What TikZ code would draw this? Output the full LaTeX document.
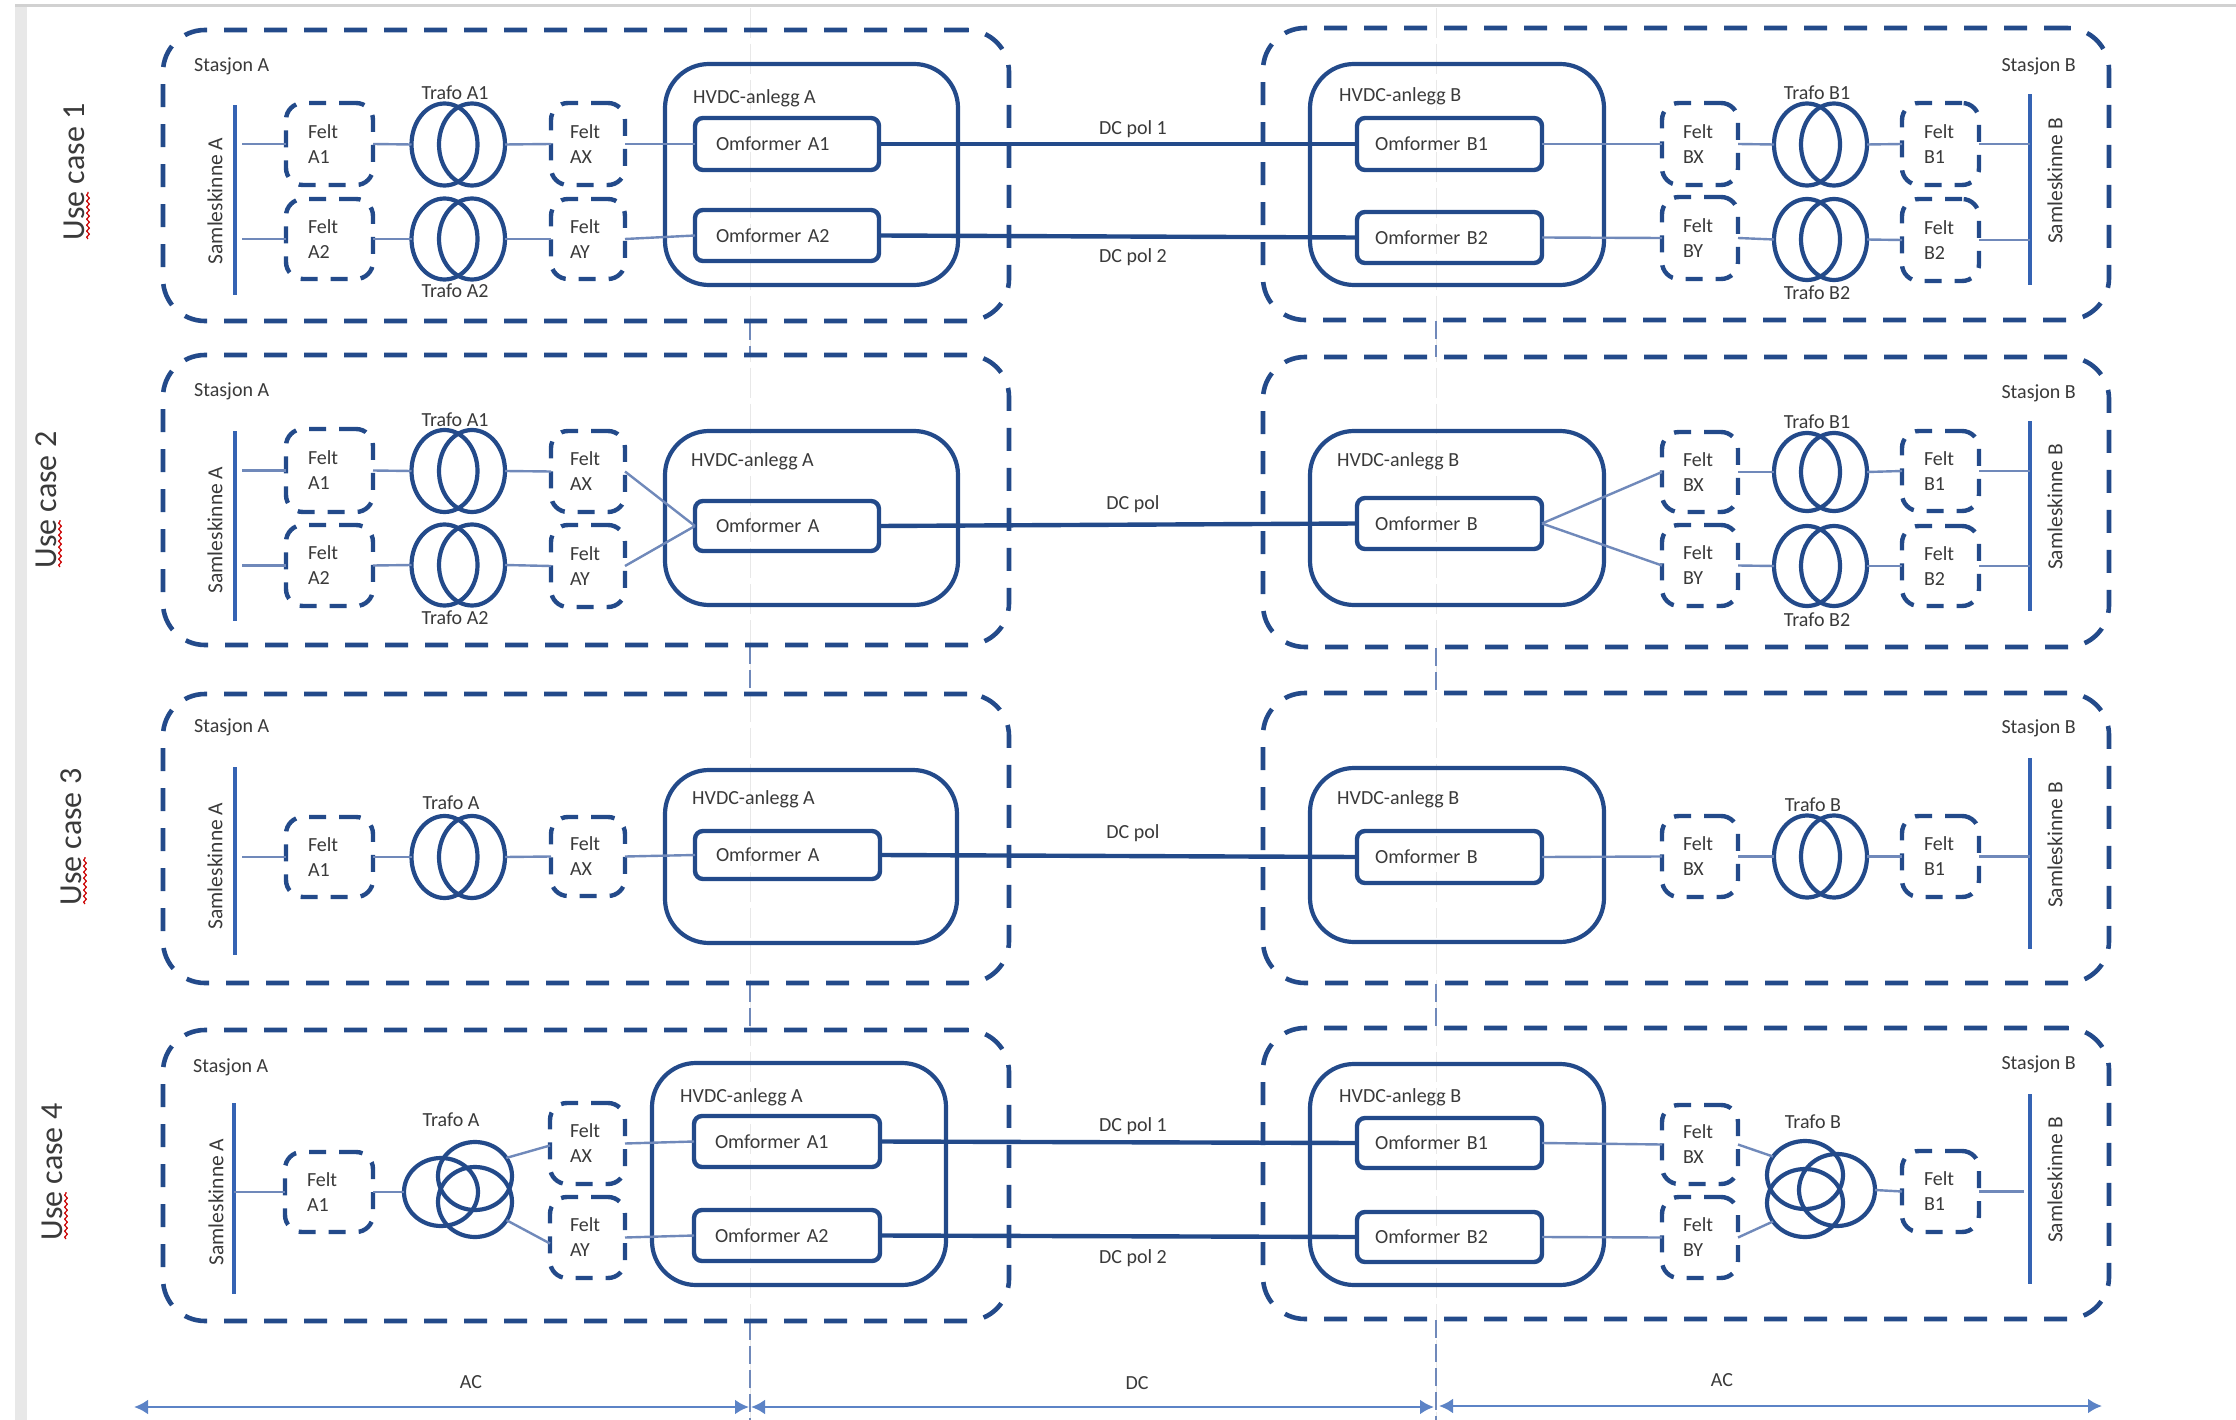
\documentclass[tikz,border=0pt]{standalone}
\usepackage{fontspec}
\setmainfont{Carlito}
\usetikzlibrary{shapes.geometric,arrows.meta,calc,decorations.pathmorphing}
\definecolor{dkblue}{HTML}{234A8A}
\definecolor{busblue}{HTML}{3563B3}
\definecolor{thinblue}{HTML}{7089BA}
\definecolor{arrblue}{HTML}{5C83C6}
\definecolor{txtgrey}{HTML}{3A3A3A}
\tikzset{
  panelbox/.style={draw=dkblue,line width=4.6pt,rounded corners=42pt,dash pattern=on 23pt off 17pt},
  hvdcbox/.style={draw=dkblue,line width=4.2pt,rounded corners=44pt},
  omfbox/.style={draw=dkblue,line width=4.4pt,rounded corners=8pt},
  feltbox/.style={draw=dkblue,line width=4.4pt,rounded corners=17pt,dash pattern=on 17pt off 13pt},
  trafoshape/.style={draw=dkblue,line width=4.2pt,ellipse,inner sep=0pt,outer sep=0pt},
  conn/.style={draw=thinblue,line width=2.4pt},
  dcline/.style={draw=dkblue,line width=4.4pt},
  busbar/.style={fill=busblue,draw=none,inner sep=0pt,outer sep=0pt},
  lab/.style={text=txtgrey,font=\fontsize{20}{25}\selectfont,inner sep=0pt},
  busl/.style={text=txtgrey,font=\fontsize{21.5}{25}\selectfont,inner sep=0pt,rotate=90},
  usecase/.style={text=txtgrey,font=\fontsize{32}{36}\selectfont,rotate=90,inner sep=0pt},
  squig/.style={draw=red!80!black,line width=1.2pt,decorate,decoration={snake,amplitude=1.3pt,segment length=6pt}},
  dimarrow/.style={draw=arrblue,line width=2.8pt,{Latex[length=14pt,width=15pt]}-{Latex[length=14pt,width=15pt]}},
  centrefaint/.style={draw=black!9,line width=1pt,dash pattern=on 30pt off 6pt},
  centredark/.style={draw=thinblue,line width=1.1pt,dash pattern=on 18pt off 6pt},
}
% style, name, x1, y1, x2, y2, text inset, text
\newcommand\bx[8]{%
  \pgfmathsetmacro\cxx{(#3+#5)/2}\pgfmathsetmacro\cyy{(#4+#6)/2}%
  \pgfmathsetmacro\www{#5-#3}\pgfmathsetmacro\hhh{#6-#4}%
  \pgfmathsetmacro\ttt{#5-#3-2*#7}%
  \node[#1,minimum width=\www pt,minimum height=\hhh pt,inner xsep=0pt,inner ysep=0pt,outer sep=0pt,
        text=txtgrey,font=\fontsize{20}{25}\selectfont,text width=\ttt pt,align=left] (#2) at (\cxx,\cyy) {#8};}
% name, cx, cy, rx, ry
\newcommand\el[5]{%
  \pgfmathsetmacro\www{2*#4}\pgfmathsetmacro\hhh{2*#5}%
  \node[trafoshape,minimum width=\www pt,minimum height=\hhh pt] (#1) at (#2,#3) {};}
% name, x, y1, y2
\newcommand\bus[4]{%
  \pgfmathsetmacro\cyy{(#3+#4)/2}\pgfmathsetmacro\hhh{#4-#3}%
  \node[busbar,minimum width=3.6pt,minimum height=\hhh pt] (#1) at (#2,\cyy) {};}
\begin{document}
\begin{tikzpicture}[x=1pt,y=-1pt]
\useasboundingbox[fill=white] (0,0) rectangle (2236,1420);
% frame
\fill[black!9] (15,4) rectangle (27,1420);
\fill[black!18] (15,4) rectangle (2236,7);
% centre lines
\coordinate (cl1t) at (750,8); \coordinate (cl1b) at (750,1420);
\coordinate (cl2t) at (1436,8); \coordinate (cl2b) at (1436,1420);
\draw[centrefaint] (cl1t) -- (cl1b);
\draw[centrefaint] (cl2t) -- (cl2b);
\draw[centredark] (750,322) -- (750,356);
\draw[centredark] (750,646) -- (750,695);
\draw[centredark] (750,984) -- (750,1031);
\draw[centredark] (750,1322) -- (750,1420);
\draw[centredark] (1436,321) -- (1436,357);
\draw[centredark] (1436,648) -- (1436,693);
\draw[centredark] (1436,984) -- (1436,1028);
\draw[centredark] (1436,1320) -- (1436,1420);

% use case labels
\foreach \nm/\cx/\cy/\tx in {uca/74/172/1,ucb/46/500/2,ucc/71/837/3,ucd/52/1172/4}{
  \node[usecase] (\nm) at (\cx,\cy) {Use case \tx};
  \draw[squig] ($(\nm.center)+(14,67)$) -- ($(\nm.center)+(14,20)$);
}

% ================ USE CASE 1
\bx{panelbox}{pa1}{163}{30}{1009}{321}{0}{}
\bx{panelbox}{pb1}{1263}{28}{2109}{320}{0}{}
\bx{hvdcbox}{ha1}{665}{64}{958}{285}{0}{}
\bx{hvdcbox}{hb1}{1310}{64}{1604}{285}{0}{}
\bus{busa1}{235}{105}{295}
\bus{busb1}{2030}{94}{285}
\bx{feltbox}{fa1a}{286}{103}{373}{185}{22}{Felt\\A1}
\bx{feltbox}{fa1b}{286}{199}{373}{279}{22}{Felt\\A2}
\bx{feltbox}{fa1x}{551}{103}{625}{185}{19}{Felt\\AX}
\bx{feltbox}{fa1y}{551}{199}{625}{279}{19}{Felt\\AY}
\el{ta1l}{444.5}{144.5}{33}{41}\el{ta1r}{472}{144.5}{33}{41}
\el{ta2l}{444.5}{239}{33}{40.5}\el{ta2r}{472}{239}{33}{40.5}
\bx{omfbox}{oa11}{695}{118}{879}{170}{21}{Omformer A1}
\bx{omfbox}{oa12}{695}{210}{879}{261}{21}{Omformer A2}
\bx{feltbox}{fb1x}{1662}{103}{1738}{185}{21}{Felt\\BX}
\bx{feltbox}{fb1y}{1662}{197}{1738}{279}{21}{Felt\\BY}
\bx{feltbox}{fb1a}{1902}{103}{1979}{185}{22}{Felt\\B1}
\bx{feltbox}{fb1b}{1902}{199}{1979}{281}{22}{Felt\\B2}
\el{tb1l}{1807}{144.5}{33}{41}\el{tb1r}{1834}{144.5}{33}{41}
\el{tb2l}{1807}{239.5}{33}{40.5}\el{tb2r}{1834}{239.5}{33}{40.5}
\bx{omfbox}{ob11}{1357}{118}{1542}{170}{18}{Omformer B1}
\bx{omfbox}{ob12}{1357}{212}{1542}{263}{18}{Omformer B2}
\draw[conn] ([xshift=7pt]busa1.center |- fa1a.west) -- (fa1a.west);
\draw[conn] ([xshift=7pt]busa1.center |- fa1b.west) -- (fa1b.west);
\draw[conn] (fa1a.east) -- (ta1l.west);
\draw[conn] (fa1b.east) -- (ta2l.west);
\draw[conn] (ta1r.east) -- (fa1x.west);
\draw[conn] (ta2r.east) -- (fa1y.west);
\draw[conn] (fa1x.east) -- (oa11.west);
\draw[conn] (fa1y.east) -- (oa12.west);
\draw[conn] (ob11.east) -- (fb1x.west);
\draw[conn] (ob12.east) -- (fb1y.west);
\draw[conn] (fb1x.east) -- (tb1l.west);
\draw[conn] (fb1y.east) -- (tb2l.west);
\draw[conn] (tb1r.east) -- (fb1a.west);
\draw[conn] (tb2r.east) -- (fb1b.west);
\draw[conn] (fb1a.east) -- (busb1.center |- fb1a.east);
\draw[conn] (fb1b.east) -- (busb1.center |- fb1b.east);
\draw[dcline] (oa11.east) -- (ob11.west);
\draw[dcline] (oa12.east) -- (ob12.west);
\node[lab,anchor=west] (sa1) at (194,66) {Stasjon A};
\node[lab,anchor=east] (sb1) at (2076,66) {Stasjon B};
\node[lab] (tla1) at (455,93) {Trafo A1};
\node[lab] (tla2) at (455,291) {Trafo A2};
\node[lab] (tlb1) at (1817,93) {Trafo B1};
\node[lab] (tlb2) at (1817,293) {Trafo B2};
\node[lab,anchor=west] (hla1) at (693,98) {HVDC-anlegg A};
\node[lab,anchor=west] (hlb1) at (1339,96) {HVDC-anlegg B};
\node[busl] (ssa1) at (215,201) {Samleskinne A};
\node[busl] (ssb1) at (2055,181) {Samleskinne B};
\node[lab] (dc11) at (1133,129) {DC pol 1};
\node[lab] (dc12) at (1133,257) {DC pol 2};

% ================ USE CASE 2
\bx{panelbox}{pa2}{163}{355}{1009}{645}{0}{}
\bx{panelbox}{pb2}{1263}{357}{2109}{647}{0}{}
\bx{hvdcbox}{ha2}{665}{431}{958}{605}{0}{}
\bx{hvdcbox}{hb2}{1310}{431}{1604}{605}{0}{}
\bus{busa2}{235}{431}{621}
\bus{busb2}{2030}{421}{611}
\bx{feltbox}{fa2a}{286}{429}{373}{512}{22}{Felt\\A1}
\bx{feltbox}{fa2b}{286}{525}{373}{606}{22}{Felt\\A2}
\bx{feltbox}{fa2x}{551}{431}{625}{512}{19}{Felt\\AX}
\bx{feltbox}{fa2y}{551}{525}{625}{607}{19}{Felt\\AY}
\el{ta3l}{444.5}{471}{33}{41}\el{ta3r}{472}{471}{33}{41}
\el{ta4l}{444.5}{565}{33}{40.5}\el{ta4r}{472}{565}{33}{40.5}
\bx{omfbox}{oa2}{695}{501}{879}{551}{21}{Omformer A}
\bx{feltbox}{fb2x}{1662}{432}{1738}{512}{21}{Felt\\BX}
\bx{feltbox}{fb2y}{1662}{525}{1738}{606}{21}{Felt\\BY}
\bx{feltbox}{fb2a}{1902}{431}{1979}{511}{22}{Felt\\B1}
\bx{feltbox}{fb2b}{1902}{526}{1979}{606}{22}{Felt\\B2}
\el{tb3l}{1807}{472}{33}{39}\el{tb3r}{1834}{472}{33}{39}
\el{tb4l}{1807}{566}{33}{40}\el{tb4r}{1834}{566}{33}{40}
\bx{omfbox}{ob2}{1357}{498}{1542}{549}{18}{Omformer B}
\draw[conn] ([xshift=7pt]busa2.center |- fa2a.west) -- (fa2a.west);
\draw[conn] ([xshift=7pt]busa2.center |- fa2b.west) -- (fa2b.west);
\draw[conn] (fa2a.east) -- (ta3l.west);
\draw[conn] (fa2b.east) -- (ta4l.west);
\draw[conn] (ta3r.east) -- (fa2x.west);
\draw[conn] (ta4r.east) -- (fa2y.west);
\draw[conn] (fa2x.east) -- (oa2.west);
\draw[conn] (fa2y.east) -- (oa2.west);
\draw[conn] (ob2.east) -- (fb2x.west);
\draw[conn] (ob2.east) -- (fb2y.west);
\draw[conn] (fb2x.east) -- (tb3l.west);
\draw[conn] (fb2y.east) -- (tb4l.west);
\draw[conn] (tb3r.east) -- (fb2a.west);
\draw[conn] (tb4r.east) -- (fb2b.west);
\draw[conn] (fb2a.east) -- (busb2.center |- fb2a.east);
\draw[conn] (fb2b.east) -- (busb2.center |- fb2b.east);
\draw[dcline] (oa2.east) -- (ob2.west);
\node[lab,anchor=west] (sa2) at (194,391) {Stasjon A};
\node[lab,anchor=east] (sb2) at (2076,393) {Stasjon B};
\node[lab] (tla3) at (455,420) {Trafo A1};
\node[lab] (tla4) at (455,618) {Trafo A2};
\node[lab] (tlb3) at (1817,422) {Trafo B1};
\node[lab] (tlb4) at (1817,620) {Trafo B2};
\node[lab,anchor=west] (hla2) at (691,461) {HVDC-anlegg A};
\node[lab,anchor=west] (hlb2) at (1337,461) {HVDC-anlegg B};
\node[busl] (ssa2) at (215,530) {Samleskinne A};
\node[busl] (ssb2) at (2055,507) {Samleskinne B};
\node[lab] (dc2) at (1133,504) {DC pol};

% ================ USE CASE 3
\bx{panelbox}{pa3}{163}{694}{1009}{983}{0}{}
\bx{panelbox}{pb3}{1263}{693}{2109}{983}{0}{}
\bx{hvdcbox}{ha3}{665}{770}{957}{943}{0}{}
\bx{hvdcbox}{hb3}{1310}{768}{1604}{942}{0}{}
\bus{busa3}{235}{767}{955}
\bus{busb3}{2030}{758}{949}
\bx{feltbox}{fa3a}{286}{817}{373}{897}{22}{Felt\\A1}
\bx{feltbox}{fa3x}{551}{817}{625}{896}{19}{Felt\\AX}
\el{ta5l}{444.5}{857}{33}{41}\el{ta5r}{472}{857}{33}{41}
\bx{omfbox}{oa3}{695}{831}{880}{879}{21}{Omformer A}
\bx{feltbox}{fb3x}{1662}{816}{1738}{897}{21}{Felt\\BX}
\bx{feltbox}{fb3a}{1902}{816}{1979}{897}{22}{Felt\\B1}
\el{tb5l}{1807}{856.5}{33}{41}\el{tb5r}{1834}{856.5}{33}{41}
\bx{omfbox}{ob3}{1357}{831}{1542}{883}{18}{Omformer B}
\draw[conn] ([xshift=7pt]busa3.center |- fa3a.west) -- (fa3a.west);
\draw[conn] (fa3a.east) -- (ta5l.west);
\draw[conn] (ta5r.east) -- (fa3x.west);
\draw[conn] (fa3x.east) -- (oa3.west);
\draw[conn] (ob3.east) -- (fb3x.west);
\draw[conn] (fb3x.east) -- (tb5l.west);
\draw[conn] (tb5r.east) -- (fb3a.west);
\draw[conn] (fb3a.east) -- (busb3.center |- fb3a.east);
\draw[dcline] (oa3.east) -- (ob3.west);
\node[lab,anchor=west] (sa3) at (194,727) {Stasjon A};
\node[lab,anchor=east] (sb3) at (2076,728) {Stasjon B};
\node[lab] (tla5) at (451,803) {Trafo A};
\node[lab] (tlb5) at (1813,805) {Trafo B};
\node[lab,anchor=west] (hla3) at (692,799) {HVDC-anlegg A};
\node[lab,anchor=west] (hlb3) at (1337,799) {HVDC-anlegg B};
\node[busl] (ssa3) at (215,866) {Samleskinne A};
\node[busl] (ssb3) at (2055,845) {Samleskinne B};
\node[lab] (dc3) at (1133,833) {DC pol};

% ================ USE CASE 4
\bx{panelbox}{pa4}{163}{1030}{1009}{1321}{0}{}
\bx{panelbox}{pb4}{1263}{1028}{2109}{1319}{0}{}
\bx{hvdcbox}{ha4}{652}{1063}{946}{1285}{0}{}
\bx{hvdcbox}{hb4}{1310}{1064}{1604}{1285}{0}{}
\bus{busa4}{234}{1103}{1294}
\bus{busb4}{2030}{1094}{1284}
\bx{feltbox}{fa4a}{285}{1152}{373}{1232}{22}{Felt\\A1}
\bx{feltbox}{fa4x}{550}{1103}{625}{1184}{20}{Felt\\AX}
\bx{feltbox}{fa4y}{550}{1197}{625}{1278}{20}{Felt\\AY}
\el{t6a}{441}{1192}{37}{34}\el{t6b}{475}{1176}{37}{34}\el{t6c}{475}{1202}{37}{35}
\bx{omfbox}{oa41}{694}{1116}{880}{1167}{21}{Omformer A1}
\bx{omfbox}{oa42}{694}{1210}{880}{1261}{21}{Omformer A2}
\bx{feltbox}{fb4x}{1662}{1105}{1738}{1184}{21}{Felt\\BX}
\bx{feltbox}{fb4y}{1662}{1197}{1738}{1278}{21}{Felt\\BY}
\bx{feltbox}{fb4a}{1902}{1151}{1979}{1232}{22}{Felt\\B1}
\el{t7a}{1805}{1175}{38}{34}\el{t7b}{1805}{1203}{38}{34}\el{t7c}{1837}{1190}{38}{36}
\bx{omfbox}{ob41}{1357}{1118}{1542}{1168}{18}{Omformer B1}
\bx{omfbox}{ob42}{1357}{1212}{1542}{1262}{18}{Omformer B2}
\draw[conn] (busa4.center |- fa4a.west) -- (fa4a.west);
\draw[conn] (fa4a.east) -- (t6a.west);
\draw[conn] (t6b.30) -- ([yshift=-2pt]fa4x.west);
\draw[conn] (t6c.-30) -- ([yshift=-6pt]fa4y.west);
\draw[conn] (fa4x.east) -- (oa41.west);
\draw[conn] (fa4y.east) -- (oa42.west);
\draw[conn] (ob41.east) -- (fb4x.west);
\draw[conn] (ob42.east) -- (fb4y.west);
\draw[conn] (fb4x.east) -- (t7a.150);
\draw[conn] (fb4y.east) -- (t7b.210);
\draw[conn] (t7c.east) -- (fb4a.west);
\draw[conn] (fb4a.east) -- ([xshift=-6pt]busb4.center |- fb4a.east);
\draw[dcline] (oa41.east) -- (ob41.west);
\draw[dcline] (oa42.east) -- (ob42.west);
\node[lab,anchor=west] (sa4) at (193,1067) {Stasjon A};
\node[lab,anchor=east] (sb4) at (2076,1064) {Stasjon B};
\node[lab] (tla6) at (451,1120) {Trafo A};
\node[lab] (tlb6) at (1813,1122) {Trafo B};
\node[lab,anchor=west] (hla4) at (680,1097) {HVDC-anlegg A};
\node[lab,anchor=west] (hlb4) at (1339,1097) {HVDC-anlegg B};
\node[busl] (ssa4) at (216,1202) {Samleskinne A};
\node[busl] (ssb4) at (2055,1180) {Samleskinne B};
\node[lab] (dc41) at (1133,1126) {DC pol 1};
\node[lab] (dc42) at (1133,1258) {DC pol 2};

% ================ AC / DC extents
\coordinate (aca) at (134,1407); \coordinate (acb) at (749,1407);
\coordinate (dca) at (751,1407); \coordinate (dcb) at (1434,1407);
\coordinate (acc) at (1439,1406); \coordinate (acd) at (2102,1406);
\draw[dimarrow] (aca) -- (acb);
\draw[dimarrow] (dca) -- (dcb);
\draw[dimarrow] (acc) -- (acd);
\node[lab] (lac1) at (471,1382) {AC};
\node[lab] (ldc) at (1137,1383) {DC};
\node[lab] (lac2) at (1722,1380) {AC};
\end{tikzpicture}
\end{document}
